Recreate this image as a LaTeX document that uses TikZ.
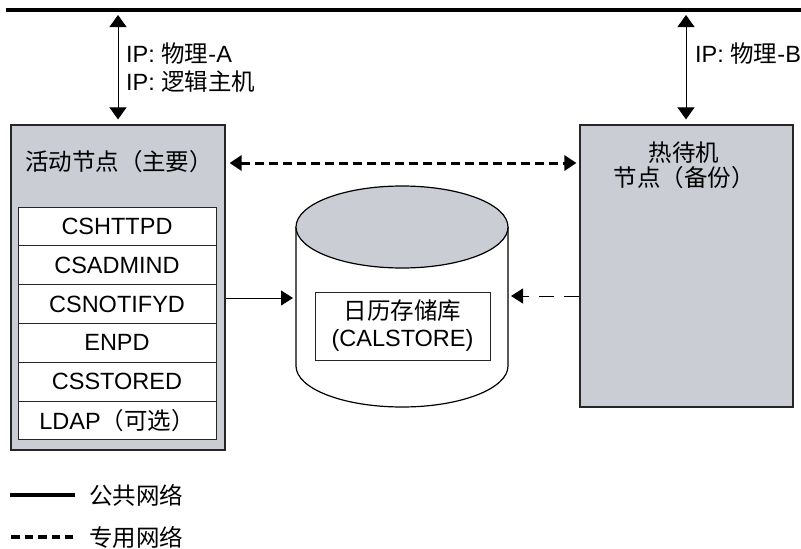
\documentclass[tikz,border=0pt]{standalone}
\usepackage{fontspec}
\setmainfont{Liberation Sans}
\newfontfamily\cjk{Noto Sans CJK SC}
\usetikzlibrary{arrows.meta}
\definecolor{nodegray}{RGB}{202,205,212}
\begin{document}
\begin{tikzpicture}[x=1pt,y=-1pt,
  txt/.style={font=\fontsize{23.5}{25}\selectfont, inner sep=0pt},
  nodebox/.style={draw=black!85, line width=1.2pt, fill=nodegray, inner sep=0pt},
  rowbox/.style={draw=black!85, line width=1pt, fill=white, minimum width=198pt, minimum height=38.8pt, inner sep=0pt, font=\fontsize{23.5}{25}\selectfont},
  ptip/.style={{Triangle[width=17pt,length=12pt]}-{Triangle[width=17pt,length=12pt]}, line width=1pt},
  onetip/.style={-{Triangle[width=15pt,length=12pt]}, line width=1pt},
  privnet/.style={line width=3pt, dash pattern=on 9pt off 5pt},
  pubnet/.style={line width=4pt},
]
\useasboundingbox (0,0) rectangle (801,549);

% public network bar
\coordinate (barL) at (6,10);
\coordinate (barR) at (801,10);
\draw[pubnet] (barL) -- (barR);

% active node
\node[nodebox, minimum width=214pt, minimum height=325pt] (active) at (118,287.5) {};
\node[txt] (activelbl) at (119,162) {\cjk 活动节点（主要）};
\node[rowbox] (r1) at (117,226.4) {CSHTTPD};
\node[rowbox] (r2) at (117,265.2) {CSADMIND};
\node[rowbox] (r3) at (117,304.0) {CSNOTIFYD};
\node[rowbox] (r4) at (117,342.8) {ENPD};
\node[rowbox] (r5) at (117,381.6) {CSSTORED};
\node[rowbox] (r6) at (117,420.4) {LDAP{\cjk （可选）}};

% standby node
\node[nodebox, minimum width=213pt, minimum height=282pt] (standby) at (686.5,266) {};
\node[txt, align=center] (standbylbl) at (684,165) {{\cjk 热待机}\\{\cjk 节点（备份）}};

% cylinder
\draw[line width=1.2pt, fill=white] (296,227) -- (296,366) arc[start angle=180, end angle=0, x radius=106, y radius=41] -- (508,227);
\draw[line width=1.2pt, fill=nodegray] (402,227) ellipse[x radius=106, y radius=41];
\node[draw=black!85, line width=1pt, fill=white, minimum width=175pt, minimum height=68pt, inner sep=0pt, align=center, font=\fontsize{23.5}{27}\selectfont] (store) at (402.5,326) {{\cjk 日历存储库}\\(CALSTORE)};
\coordinate (cylW) at (296,298);
\coordinate (cylE) at (508,296);

% IP connectors
\coordinate (ipA) at (118,12);
\coordinate (ipB) at (686,12);
\draw[ptip, shorten <=3pt, shorten >=5pt] (ipA) -- (active.north -| ipA);
\draw[ptip, shorten <=3pt, shorten >=5pt] (ipB) -- (standby.north -| ipB);
\node[txt, anchor=west] (ipAlbl1) at (126,54) {IP: {\cjk 物理}-A};
\node[txt, anchor=west] (ipAlbl2) at (126,82) {IP: {\cjk 逻辑主机}};
\node[txt, anchor=west] (ipBlbl) at (695,54) {IP: {\cjk 物理}-B};

% private network between nodes
\coordinate (privL) at (225,163);
\draw[privnet, {Triangle[width=15pt,length=12pt]}-{Triangle[width=15pt,length=12pt]}, shorten <=4pt, shorten >=3pt] (active.east |- privL) -- (standby.west |- privL);

% active -> store
\draw[onetip, shorten >=3pt] (active.east |- cylW) -- (cylW);
% standby -> store (dashed)
\draw[onetip, dash pattern=on 15pt off 10pt, shorten >=3pt] (standby.west |- cylE) -- (cylE);

% legend
\coordinate (lg1a) at (10,495);
\coordinate (lg1b) at (75,495);
\coordinate (lg2a) at (11,537);
\coordinate (lg2b) at (73,537);
\draw[line width=3.5pt] (lg1a) -- (lg1b);
\draw[line width=3.5pt, dash pattern=on 8.5pt off 5.1pt] (lg2a) -- (lg2b);
\node[txt, anchor=west] (lg1t) at (89,495) {\cjk 公共网络};
\node[txt, anchor=west] (lg2t) at (89,537) {\cjk 专用网络};
\end{tikzpicture}
\end{document}
